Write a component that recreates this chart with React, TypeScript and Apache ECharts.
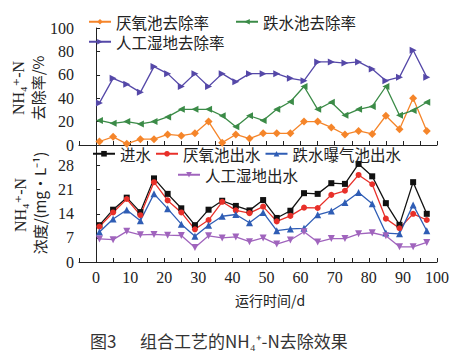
import React, { useEffect, useRef } from "react";
import * as echarts from "echarts";

const days = [1, 5, 9, 13, 17, 21, 25, 29, 33, 37, 41, 45, 49, 53, 57, 61, 65, 69, 73, 77, 81, 85, 89, 93, 97];

// removal rates (%)
const anaerobicRate = [3, 7, 1, 5, 5, 9, 8, 10, 20, 2, 9, 5.5, 10, 10, 10, 20, 20, 15, 9, 12, 9.5, 25, 13.5, 40, 12];
const dropRate = [21, 18.5, 20, 18, 20, 24, 30.5, 30.5, 30.5, 25, 15.5, 25, 21, 30.5, 37, 50, 30.5, 36.5, 25.5, 30.5, 33, 50, 25.5, 29.5, 36.5];
const wetlandRate = [36, 57, 52, 45, 67, 61, 50, 61, 50, 61, 54, 61, 61, 61, 57, 55, 71, 71, 70, 71, 65, 55, 58, 81, 58];

// concentrations (mg/L)
const influent = [10.7, 15.2, 18.7, 14.5, 24.3, 19.8, 15.6, 10.7, 15.2, 17.8, 16.3, 15, 18, 12.8, 14.9, 20, 19.8, 22.9, 22.7, 28.5, 24.9, 17.1, 10.8, 23.2, 14];
const anaerobicOut = [10.3, 14.4, 18.3, 13.6, 23.2, 17.9, 14.4, 9.5, 12.2, 17.5, 15, 14.2, 16.1, 11.8, 13.4, 15.8, 15.7, 19.5, 20.7, 25.3, 22.6, 12.6, 9.8, 14, 12.2];
const dropOut = [8.7, 12.5, 15.1, 12, 19.8, 15.5, 11, 7.5, 10.7, 13.3, 13.8, 11.4, 14.4, 9.1, 9.6, 9.8, 13.7, 14.8, 17.3, 20.2, 16.9, 8.4, 8.2, 16.6, 9.1];
const wetlandOut = [6.7, 6.5, 8.9, 7.9, 8, 7.8, 7.7, 4.2, 7.6, 7, 7.3, 5.9, 7, 5.2, 6.4, 8.8, 5.8, 6.8, 6.8, 8.2, 8.5, 7.6, 4.4, 4.4, 5.7];

const rateTicks = [0, 20, 40, 60, 80, 100];
const concTicks = [0, 7, 14, 21, 28];
const dayTicks = [0, 10, 20, 30, 40, 50, 60, 70, 80, 90, 100];

const CJK = "Noto Sans CJK SC";
const SERIF = "Times New Roman, Liberation Serif, DejaVu Serif, serif";

const pair = (arr: number[]) => days.map((d, i) => [d, arr[i]]);

export default function App() {
  const ref = useRef<HTMLDivElement>(null);
  useEffect(() => {
    if (!ref.current) return;
    const chart = echarts.init(ref.current, undefined, { renderer: "svg" });

    const mkLine = (name: string, data: number[], color: string, symbol: string, rot: number, x: number, y: number, size = 7) => ({
      name,
      type: "line",
      xAxisIndex: x,
      yAxisIndex: y,
      data: pair(data),
      symbol,
      symbolSize: size,
      symbolRotate: rot,
      lineStyle: { color, width: 1.3 },
      itemStyle: { color },
      emphasis: { disabled: true },
    });

    const axisLine = { show: true, lineStyle: { color: "#222", width: 1 } };
    const tick = { show: true, inside: true, length: 4, lineStyle: { color: "#222" } };
    const lbl = { fontFamily: SERIF, fontSize: 16, color: "#222" };

    const legendBase = {
      padding: 0,
      itemWidth: 22,
      itemHeight: 7,
      textStyle: { fontFamily: CJK, fontSize: 15.5, color: "#222" },
    };

    chart.setOption({
      animation: false,
      grid: [
        { left: 79, top: 28, width: 358, height: 117 },
        { left: 79, top: 145, width: 358, height: 117 },
      ],
      xAxis: [
        {
          type: "value", gridIndex: 0, min: -5, max: 100, interval: 5,
          axisLine, axisTick: tick, axisLabel: { show: false }, splitLine: { show: false },
        },
        {
          type: "value", gridIndex: 1, min: -5, max: 100, interval: 5,
          axisLine, axisTick: tick,
          axisLabel: { ...lbl, margin: 7, formatter: (v: number) => (dayTicks.includes(v) ? String(v) : "") },
          splitLine: { show: false },
        },
      ],
      yAxis: [
        {
          type: "value", gridIndex: 0, min: 0, max: 100, interval: 20,
          axisLine, axisTick: tick,
          axisLabel: { ...lbl, margin: 5, formatter: (v: number) => (rateTicks.includes(v) ? String(v) : "") },
          splitLine: { show: false },
        },
        {
          type: "value", gridIndex: 1, min: 0, max: 34, interval: 7,
          axisLine, axisTick: tick,
          axisLabel: { ...lbl, margin: 5, formatter: (v: number) => (concTicks.includes(v) ? String(v) : "") },
          splitLine: { show: false },
        },
      ],
      legend: [
        { ...legendBase, left: 88, top: 14, itemGap: 26, data: ["厌氧池去除率", "跌水池去除率"] },
        { ...legendBase, left: 88, top: 34, data: ["人工湿地去除率"] },
        { ...legendBase, left: 92, top: 146, itemGap: 4, data: ["进水", "厌氧池出水", "跌水曝气池出水"] },
        { ...legendBase, left: 177, top: 167, data: ["人工湿地出水"] },
      ],
      series: [
        mkLine("厌氧池去除率", anaerobicRate, "#F5852A", "diamond", 0, 0, 0, 8),
        mkLine("跌水池去除率", dropRate, "#3B8B47", "triangle", 90, 0, 0),
        mkLine("人工湿地去除率", wetlandRate, "#5548A8", "triangle", -90, 0, 0),
        mkLine("进水", influent, "#111111", "rect", 0, 1, 1, 6),
        mkLine("厌氧池出水", anaerobicOut, "#E8302A", "circle", 0, 1, 1, 6),
        mkLine("跌水曝气池出水", dropOut, "#2F5DB5", "triangle", 0, 1, 1),
        mkLine("人工湿地出水", wetlandOut, "#A064BD", "triangle", 180, 1, 1),
      ],
      graphic: [
        { type: "text", x: 18, y: 88, rotation: Math.PI / 2, style: { text: "NH₄⁺-N", fontFamily: SERIF, fontSize: 16, fill: "#222", align: "center", verticalAlign: "middle" } },
        { type: "text", x: 37, y: 88, rotation: Math.PI / 2, style: { text: "去除率/%", fontFamily: CJK, fontSize: 15, fill: "#222", align: "center", verticalAlign: "middle" } },
        { type: "text", x: 20, y: 205, rotation: Math.PI / 2, style: { text: "NH₄⁺-N", fontFamily: SERIF, fontSize: 16, fill: "#222", align: "center", verticalAlign: "middle" } },
        { type: "text", x: 39, y: 203, rotation: Math.PI / 2, style: { text: "浓度/(mg·L⁻¹)", fontFamily: CJK, fontSize: 15, fill: "#222", align: "center", verticalAlign: "middle" } },
        { type: "text", x: 270, y: 300, style: { text: "运行时间/d", fontFamily: CJK, fontSize: 14, fill: "#222", align: "center", verticalAlign: "middle" } },
        { type: "text", x: 90, y: 340, style: { text: "图3", fontFamily: CJK, fontSize: 17, fill: "#333", align: "left", verticalAlign: "middle" } },
        { type: "text", x: 140, y: 340, style: { text: "组合工艺的NH₄⁺-N去除效果", fontFamily: CJK, fontSize: 17, fill: "#333", align: "left", verticalAlign: "middle" } },
      ],
    });
    return () => chart.dispose();
  }, []);
  return <div ref={ref} style={{ width: 466, height: 353, position: "absolute", left: 0, top: 0, background: "#fff" }} />;
}
